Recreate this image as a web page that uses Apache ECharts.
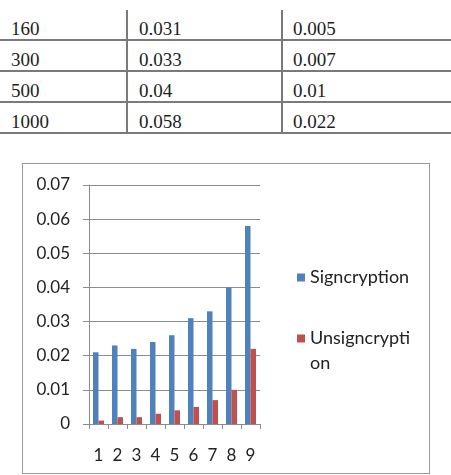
<!DOCTYPE html>
<html>
<head>
<meta charset="utf-8">
<script src="https://cdn.jsdelivr.net/npm/echarts@6/dist/echarts.min.js"></script>
<style>
  html, body {
    margin: 0;
    padding: 0;
    background: #fff;
  }
  .page {
    position: relative;
    width: 451px;
    height: 475px;
    overflow: hidden;
  }
  .tbl {
    position: absolute;
    top: 10px;
    left: 0;
    width: 451px;
  }
  .tbl .row {
    display: flex;
    height: 31px;
    border-bottom: 2px solid #7a7a7a;
    box-sizing: border-box;
  }
  .tbl .cell {
    box-sizing: border-box;
    height: 100%;
    font-family: "Liberation Serif", serif;
    font-size: 19px;
    color: #1e1e1e;
    line-height: 19px;
    padding-top: 9px;
    padding-left: 11px;
  }
  .tbl .c1 { width: 128px; border-right: 2px solid #7a7a7a; }
  .tbl .c2 { width: 155px; border-right: 2px solid #7a7a7a; }
  .tbl .c3 { flex: 1; padding-left: 10px; }
  #chart {
    position: absolute;
    left: 22px;
    top: 163px;
    width: 408px;
    height: 311px;
    border: 1px solid #9a9a9a;
    box-sizing: border-box;
  }
</style>
</head>
<body>
<div class="page">
  <div class="tbl" id="tbl"></div>
  <div id="chart"></div>
</div>
<script>
// 表格数据
const tableSize = ['160', '300', '500', '1000']
const tableSign = ['0.031', '0.033', '0.04', '0.058']
const tableUnsign = ['0.005', '0.007', '0.01', '0.022']

// 柱状图数据
const categories = ['1', '2', '3', '4', '5', '6', '7', '8', '9']
const signcryption = [0.021, 0.023, 0.022, 0.024, 0.026, 0.031, 0.033, 0.04, 0.058]
const unsigncryption = [0.001, 0.002, 0.002, 0.003, 0.004, 0.005, 0.007, 0.01, 0.022]

let tbl = document.getElementById('tbl')
tableSize.forEach((item, index) => {
  let row = document.createElement('div')
  row.className = 'row'
  let cells = [item, tableSign[index], tableUnsign[index]]
  cells.forEach((text, i) => {
    let cell = document.createElement('div')
    cell.className = 'cell c' + (i + 1)
    cell.textContent = text
    row.appendChild(cell)
  })
  tbl.appendChild(row)
})

let myChart = echarts.init(document.getElementById('chart'), null, { renderer: 'canvas' })
let gridColor = '#8c8c8c'
let labelFont = {
  fontFamily: 'Lato',
  fontSize: 17,
  color: '#222'
}
let option = {
  animation: false,
  backgroundColor: '#fff',
  grid: {
    left: 66,
    top: 21,
    width: 171,
    height: 239,
    containLabel: false
  },
  legend: [
    {
      orient: 'vertical',
      left: 269,
      top: 96,
      itemWidth: 8,
      itemHeight: 8,
      icon: 'rect',
      data: ['Signcryption'],
      textStyle: Object.assign({}, labelFont, { fontSize: 18, lineHeight: 25 })
    },
    {
      orient: 'vertical',
      left: 269,
      top: 132,
      itemWidth: 8,
      itemHeight: 8,
      icon: 'rect',
      data: ['Unsigncryption'],
      // 图例文字折行，首行与色块对齐
      formatter: () => ' \nUnsigncrypti\non',
      textStyle: Object.assign({}, labelFont, { fontSize: 18, lineHeight: 25 })
    }
  ],
  xAxis: {
    type: 'category',
    data: categories,
    boundaryGap: true,
    axisLine: { lineStyle: { color: gridColor, width: 1 } },
    axisTick: { show: true, length: 5, alignWithLabel: false, lineStyle: { color: gridColor } },
    axisLabel: Object.assign({ margin: 23, interval: 0 }, labelFont)
  },
  yAxis: {
    type: 'value',
    min: 0,
    max: 0.07,
    interval: 0.01,
    axisLine: { show: true, lineStyle: { color: gridColor, width: 1 } },
    axisTick: { show: true, length: 6, lineStyle: { color: gridColor } },
    axisLabel: Object.assign({ margin: 19, formatter: v => (v === 0 ? '0' : v.toFixed(2)) }, labelFont),
    splitLine: { lineStyle: { color: gridColor, width: 1 } }
  },
  series: [
    {
      name: 'Signcryption',
      type: 'bar',
      data: signcryption,
      barWidth: 5.5,
      barGap: '0%',
      itemStyle: { color: '#4f81bd' }
    },
    {
      name: 'Unsigncryption',
      type: 'bar',
      data: unsigncryption,
      barWidth: 5.5,
      barGap: '0%',
      itemStyle: { color: '#c0504d' }
    }
  ]
}
myChart.setOption(option)
</script>
</body>
</html>
